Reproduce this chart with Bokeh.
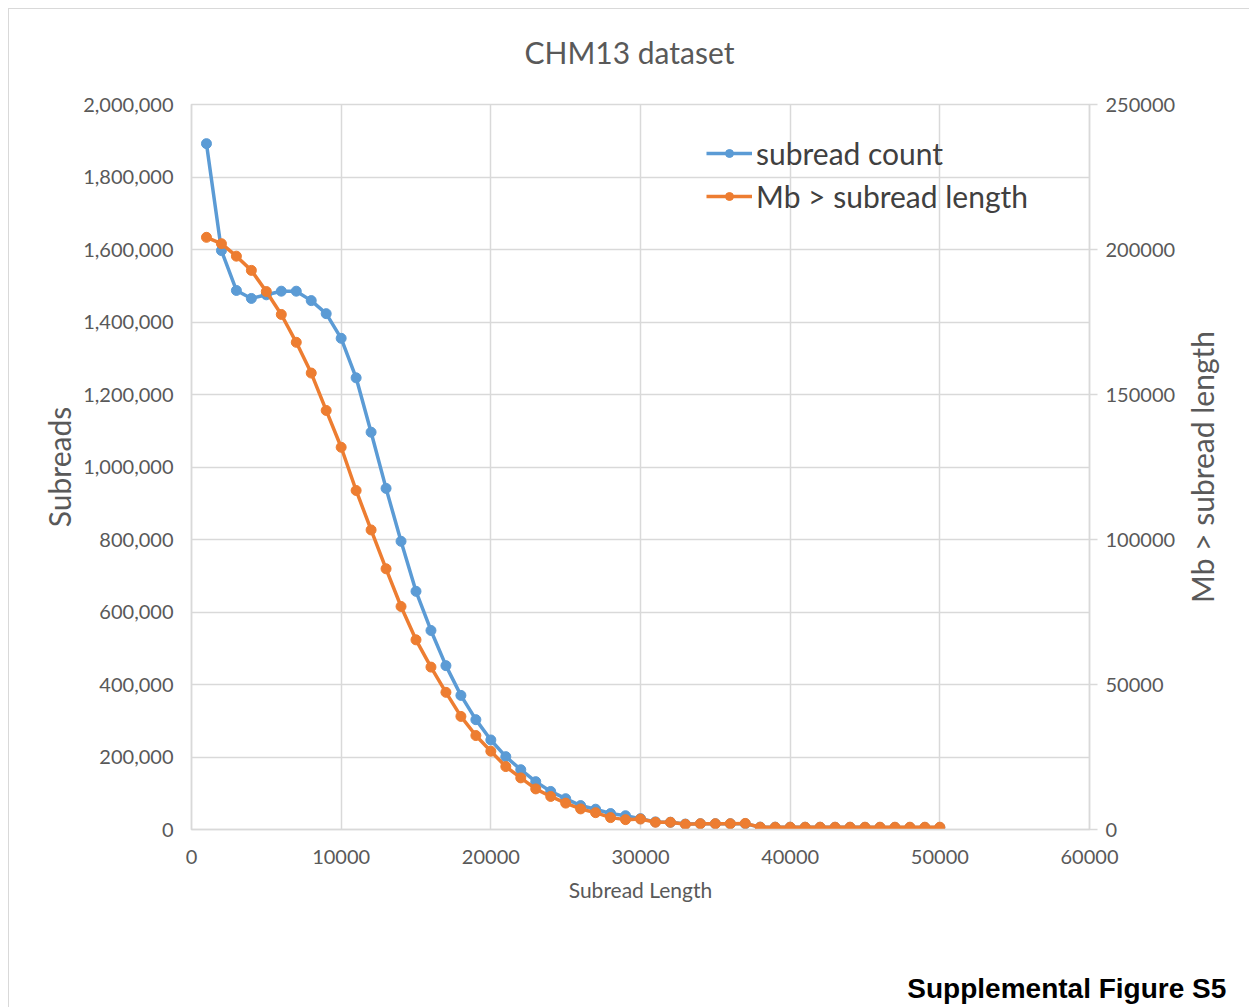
from bokeh.plotting import figure
from bokeh.models import (Range1d, LinearAxis, FixedTicker, NumeralTickFormatter,
                          Legend, LegendItem, Label)
from bokeh.embed import file_html
from bokeh.resources import INLINE
import math

# ---- data ----
subread_length = [1000, 2000, 3000, 4000, 5000, 6000, 7000, 8000, 9000, 10000,
                  11000, 12000, 13000, 14000, 15000, 16000, 17000, 18000, 19000, 20000,
                  21000, 22000, 23000, 24000, 25000, 26000, 27000, 28000, 29000, 30000,
                  31000, 32000, 33000, 34000, 35000, 36000, 37000, 38000, 39000, 40000,
                  41000, 42000, 43000, 44000, 45000, 46000, 47000, 48000, 49000, 50000]

subread_count = [1892000, 1597000, 1487000, 1465000, 1475000, 1485000, 1485000, 1459000, 1423000, 1355000,
                 1246000, 1096000, 941000, 795000, 657000, 549000, 452000, 370000, 303000, 247000,
                 201000, 165000, 132000, 105000, 85000, 66000, 56000, 44000, 38000, 30000,
                 21000, 20000, 15000, 16000, 16000, 16000, 16000, 6500, 6400, 6300,
                 6200, 6100, 6000, 6000, 5900, 5800, 5700, 5600, 5500, 5400]

mb_gt_length = [204200, 202000, 197700, 192800, 185500, 177600, 168000, 157400, 144500, 131800,
                116900, 103300, 89900, 76900, 65400, 56000, 47300, 39000, 32400, 27000,
                21700, 17800, 14000, 11400, 9100, 7100, 5800, 4100, 3400, 3600,
                2500, 2500, 1800, 2000, 2000, 2000, 2100, 800, 800, 800,
                800, 800, 800, 800, 800, 800, 800, 800, 800, 800]

x_ticks = [0, 10000, 20000, 30000, 40000, 50000, 60000]
left_ticks = [0, 200000, 400000, 600000, 800000, 1000000, 1200000, 1400000, 1600000, 1800000, 2000000]
right_ticks = [0, 50000, 100000, 150000, 200000, 250000]

BLUE = "#5B9BD5"
ORANGE = "#ED7D31"
GRID = "#d9d9d9"
TXT = "#595959"
FONT = "Lato"

p = figure(width=1241, height=999, output_backend="svg", toolbar_location=None,
           x_range=Range1d(0, 60000), y_range=Range1d(0, 2000000),
           min_border_left=182, min_border_right=161, min_border_top=95, min_border_bottom=179)
p.styles = {"border-left": "1px solid #d9d9d9", "border-top": "1px solid #d9d9d9",
            "margin-left": "8px", "margin-top": "8px"}
p.background_fill_color = "white"
p.border_fill_color = "white"
p.outline_line_color = GRID
p.outline_line_width = 1.5

p.extra_y_ranges = {"mb": Range1d(0, 250000)}

# bottom axis
xa = p.xaxis[0]
xa.ticker = FixedTicker(ticks=x_ticks)
xa.formatter = NumeralTickFormatter(format="0")
xa.axis_label = "Subread Length"
xa.axis_label_text_font = FONT
xa.axis_label_text_font_size = "21px"
xa.axis_label_text_font_style = "normal"
xa.axis_label_text_color = TXT
xa.axis_label_standoff = 10
xa.major_label_text_font = FONT
xa.major_label_text_font_size = "20px"
xa.major_label_text_color = TXT
xa.major_label_standoff = 14
xa.major_tick_line_color = None
xa.minor_tick_line_color = None
xa.axis_line_color = GRID
xa.axis_line_width = 1.5

# left axis
ya = p.yaxis[0]
ya.ticker = FixedTicker(ticks=left_ticks)
ya.formatter = NumeralTickFormatter(format="0,0")
ya.axis_label = "Subreads"
ya.axis_label_text_font = FONT
ya.axis_label_text_font_size = "30px"
ya.axis_label_text_font_style = "normal"
ya.axis_label_text_color = TXT
ya.axis_label_standoff = 3
ya.major_label_text_font = FONT
ya.major_label_text_font_size = "20px"
ya.major_label_text_color = TXT
ya.major_label_standoff = 12
ya.major_tick_line_color = None
ya.minor_tick_line_color = None
ya.axis_line_color = GRID
ya.axis_line_width = 1.5

# right axis
ra = LinearAxis(y_range_name="mb")
ra.ticker = FixedTicker(ticks=right_ticks)
ra.formatter = NumeralTickFormatter(format="0")
ra.major_label_text_font = FONT
ra.major_label_text_font_size = "20px"
ra.major_label_text_color = TXT
ra.major_label_standoff = 8
ra.major_tick_in = 0
ra.major_tick_out = 8
ra.major_tick_line_color = GRID
ra.major_tick_line_width = 1.5
ra.minor_tick_line_color = None
ra.axis_line_color = GRID
ra.axis_line_width = 1.5
p.add_layout(ra, "right")

p.xgrid.grid_line_color = GRID
p.xgrid.grid_line_width = 1.5
p.ygrid.grid_line_color = GRID
p.ygrid.grid_line_width = 1.5

# series
bl = p.line(subread_length, subread_count, line_color=BLUE, line_width=3.5)
bm = p.scatter(subread_length, subread_count, size=10, fill_color=BLUE, line_color=BLUE)
ol = p.line(subread_length, mb_gt_length, line_color=ORANGE, line_width=3.5, y_range_name="mb")
om = p.scatter(subread_length, mb_gt_length, size=10, fill_color=ORANGE, line_color=ORANGE,
               y_range_name="mb")

legend = Legend(items=[LegendItem(label="subread count", renderers=[bl, bm]),
                       LegendItem(label="Mb > subread length", renderers=[ol, om])],
                location=(515, 612), background_fill_alpha=0, border_line_alpha=0,
                label_text_font=FONT, label_text_font_size="30px", label_text_color="#404040",
                glyph_width=46, glyph_height=20, label_standoff=4, padding=0, spacing=0,
                label_height=43, margin=0)
p.add_layout(legend)

# chart title, in the top panel
title = Label(x=29259, y=2146000, text="CHM13 dataset",
              text_align="center", text_baseline="middle", text_font=FONT,
              text_font_size="30px", text_color=TXT)
p.add_layout(title, "above")

# right axis title (reads bottom-to-top, as in the reference); placed in the right panel
rlab = Label(x=67515, y=1000000, text="Mb > subread length", angle=math.pi / 2,
             text_align="center", text_baseline="middle", text_font=FONT,
             text_font_size="30px", text_color=TXT)
p.add_layout(rlab, "right")

# figure caption, in the bottom panel
foot = Label(x=69139, y=-438600, text="Supplemental Figure S5",
             text_align="right", text_baseline="middle", text_font="Liberation Sans",
             text_font_style="bold", text_font_size="28px", text_color="black")
p.add_layout(foot, "below")

open("out.html", "w").write(file_html(p, INLINE))
